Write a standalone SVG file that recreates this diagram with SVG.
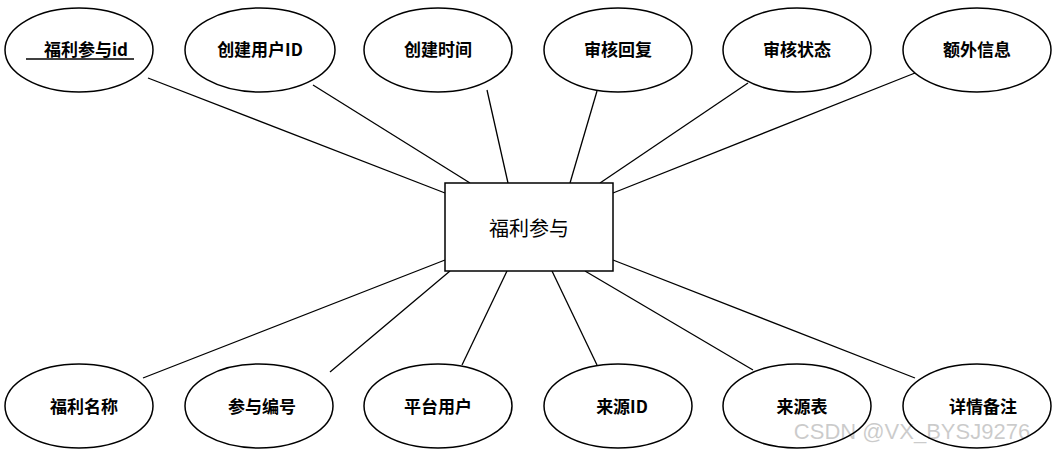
<svg xmlns="http://www.w3.org/2000/svg" width="1057" height="454" viewBox="0 0 1057 454">
<style>
ellipse,.box{fill:#fff;stroke:#000;stroke-width:1.5}
line{stroke:#000;stroke-width:1.3}
text{font-family:"Noto Sans CJK SC","Liberation Sans",sans-serif;font-weight:bold;font-size:17px;text-anchor:middle;dominant-baseline:central}
</style>
<rect width="1057" height="454" fill="#fff"/>
<g id="connectors">
<line x1="148" y1="78" x2="445" y2="193"/>
<line x1="313" y1="85" x2="470" y2="183"/>
<line x1="487" y1="90" x2="508" y2="183"/>
<line x1="597" y1="91" x2="570" y2="183"/>
<line x1="748" y1="83" x2="600" y2="183"/>
<line x1="915" y1="73" x2="613" y2="193"/>
<line x1="445" y1="260" x2="143" y2="378"/>
<line x1="450" y1="271" x2="330" y2="372"/>
<line x1="507" y1="271" x2="462" y2="365"/>
<line x1="552" y1="271" x2="597" y2="365"/>
<line x1="585" y1="271" x2="753" y2="370"/>
<line x1="613" y1="260" x2="915" y2="378"/>
</g>
<g id="center"><rect class="box" x="445" y="183" width="168" height="88"/><text x="529" y="227" style="font-weight:normal;font-size:20px">福利参与</text></g>
<g id="n1"><ellipse cx="79" cy="50" rx="74" ry="42"/><text x="86" y="48">福利参与id</text><line x1="26" y1="59" x2="134" y2="59"/></g>
<g id="n2"><ellipse cx="260" cy="50" rx="75" ry="42"/><text x="260" y="48">创建用户ID</text></g>
<g id="n3"><ellipse cx="438" cy="50" rx="74" ry="42"/><text x="438" y="48">创建时间</text></g>
<g id="n4"><ellipse cx="618" cy="50" rx="74" ry="42"/><text x="618" y="48">审核回复</text></g>
<g id="n5"><ellipse cx="797" cy="50" rx="74" ry="42"/><text x="797" y="48">审核状态</text></g>
<g id="n6"><ellipse cx="977" cy="50" rx="74" ry="42"/><text x="977" y="48">额外信息</text></g>
<g id="n7"><ellipse cx="79" cy="406" rx="74" ry="42"/><text x="84" y="405">福利名称</text></g>
<g id="n8"><ellipse cx="259" cy="406" rx="74" ry="42"/><text x="262" y="405">参与编号</text></g>
<g id="n9"><ellipse cx="438" cy="406" rx="74" ry="42"/><text x="438" y="405">平台用户</text></g>
<g id="n10"><ellipse cx="618" cy="406" rx="74" ry="42"/><text x="622" y="405">来源ID</text></g>
<g id="n11"><ellipse cx="797" cy="406" rx="74" ry="42"/><text x="802" y="405">来源表</text></g>
<g id="n12"><ellipse cx="977" cy="406" rx="74" ry="42"/><text x="983" y="405">详情备注</text></g>
<text x="912" y="431" style="font-family:'Liberation Sans',sans-serif;font-weight:normal;font-size:22px;fill:#000;opacity:0.2">CSDN @VX_BYSJ9276</text>
</svg>
